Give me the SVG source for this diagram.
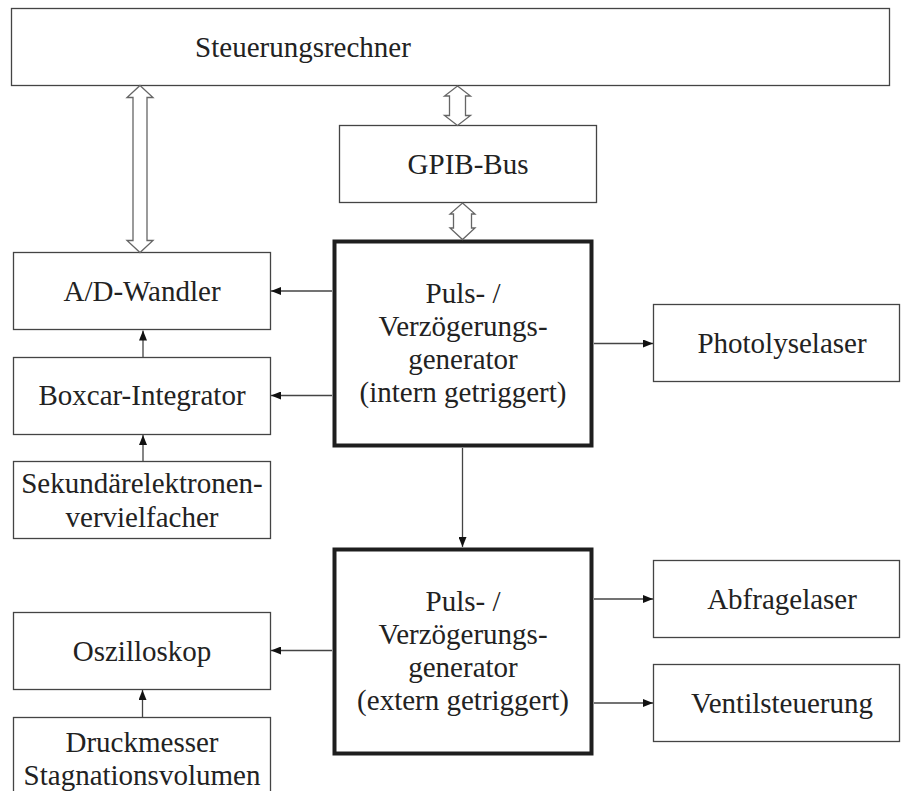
<svg xmlns="http://www.w3.org/2000/svg" width="901" height="791" viewBox="0 0 901 791">
<defs>
<style>
.box{fill:#fff;stroke:#444;stroke-width:1.3}
.thick{fill:#fff;stroke:#1e1e1e;stroke-width:4}
.t{font-family:"Liberation Serif","Times New Roman",serif;font-size:29px;fill:#222;text-anchor:middle}
.c{stroke:#444;stroke-width:1.3;fill:none}
.dbl{fill:#fff;stroke:#666;stroke-width:1.3;stroke-linejoin:miter}
</style>
<marker id="ah" markerUnits="userSpaceOnUse" markerWidth="10" markerHeight="8" refX="10" refY="4" orient="auto">
<path d="M0,0 L10,4 L0,8 Z" fill="#111"/>
</marker>
</defs>
<rect width="901" height="791" fill="#fff"/>

<g id="steuerungsrechner">
<rect class="box" x="11.5" y="8.5" width="878" height="77"/>
<text class="t" x="303" y="56.5">Steuerungsrechner</text>
</g>
<g id="gpib">
<rect class="box" x="339.5" y="125.5" width="257" height="77"/>
<text class="t" x="468" y="173.5">GPIB-Bus</text>
</g>
<g id="ad-wandler">
<rect class="box" x="13.5" y="252.5" width="257" height="77"/>
<text class="t" x="142" y="300.5">A/D-Wandler</text>
</g>
<g id="boxcar">
<rect class="box" x="13.5" y="357.5" width="257" height="77"/>
<text class="t" x="142" y="405">Boxcar-Integrator</text>
</g>
<g id="sev">
<rect class="box" x="13.5" y="461.5" width="257" height="77"/>
<text class="t" x="142" y="493">Sekundärelektronen-</text>
<text class="t" x="142" y="527">vervielfacher</text>
</g>
<g id="puls-intern">
<rect class="thick" x="334.5" y="241.5" width="257" height="204"/>
<text class="t" x="463" y="303">Puls- /</text>
<text class="t" x="463" y="336">Verzögerungs-</text>
<text class="t" x="463" y="369">generator</text>
<text class="t" x="463" y="402">(intern getriggert)</text>
</g>
<g id="photolyselaser">
<rect class="box" x="653.5" y="304.5" width="246" height="77"/>
<text class="t" x="782" y="353">Photolyselaser</text>
</g>
<g id="puls-extern">
<rect class="thick" x="334.5" y="549.5" width="257" height="204"/>
<text class="t" x="463" y="611">Puls- /</text>
<text class="t" x="463" y="644">Verzögerungs-</text>
<text class="t" x="463" y="677">generator</text>
<text class="t" x="463" y="710">(extern getriggert)</text>
</g>
<g id="abfragelaser">
<rect class="box" x="653.5" y="560.5" width="246" height="77"/>
<text class="t" x="782" y="608.5">Abfragelaser</text>
</g>
<g id="ventilsteuerung">
<rect class="box" x="653.5" y="664.5" width="246" height="77"/>
<text class="t" x="782" y="712.5">Ventilsteuerung</text>
</g>
<g id="oszilloskop">
<rect class="box" x="13.5" y="612.5" width="257" height="77"/>
<text class="t" x="142" y="660.5">Oszilloskop</text>
</g>
<g id="druckmesser">
<rect class="box" x="13.5" y="717.5" width="257" height="90"/>
<text class="t" x="142" y="752">Druckmesser</text>
<text class="t" x="142" y="785">Stagnationsvolumen</text>
</g>

<g id="connectors">
<path class="dbl" d="M140,85.5 L153,97.5 L147,97.5 L147,240.5 L153,240.5 L140,252.5 L127,240.5 L133,240.5 L133,97.5 L127,97.5 Z"/>
<path class="dbl" d="M457.5,86 L470.5,96 L465.5,96 L465.5,115.5 L470.5,115.5 L457.5,125.5 L444.5,115.5 L449.5,115.5 L449.5,96 L444.5,96 Z"/>
<path class="dbl" d="M462.5,203 L475,214 L471.5,214 L471.5,228 L475,228 L462.5,239.5 L450,228 L453.5,228 L453.5,214 L450,214 Z"/>
<line class="c" x1="332" y1="291" x2="271" y2="291" marker-end="url(#ah)"/>
<line class="c" x1="332" y1="395.5" x2="271" y2="395.5" marker-end="url(#ah)"/>
<line class="c" x1="143" y1="357" x2="143" y2="330.5" marker-end="url(#ah)"/>
<line class="c" x1="143" y1="461" x2="143" y2="435" marker-end="url(#ah)"/>
<line class="c" x1="594" y1="343.5" x2="653" y2="343.5" marker-end="url(#ah)"/>
<line class="c" x1="462.5" y1="448" x2="462.5" y2="547" marker-end="url(#ah)"/>
<line class="c" x1="594" y1="599" x2="653" y2="599" marker-end="url(#ah)"/>
<line class="c" x1="594" y1="703" x2="653" y2="703" marker-end="url(#ah)"/>
<line class="c" x1="332" y1="650.5" x2="271" y2="650.5" marker-end="url(#ah)"/>
<line class="c" x1="142.5" y1="717" x2="142.5" y2="690" marker-end="url(#ah)"/>
</g>
</svg>
